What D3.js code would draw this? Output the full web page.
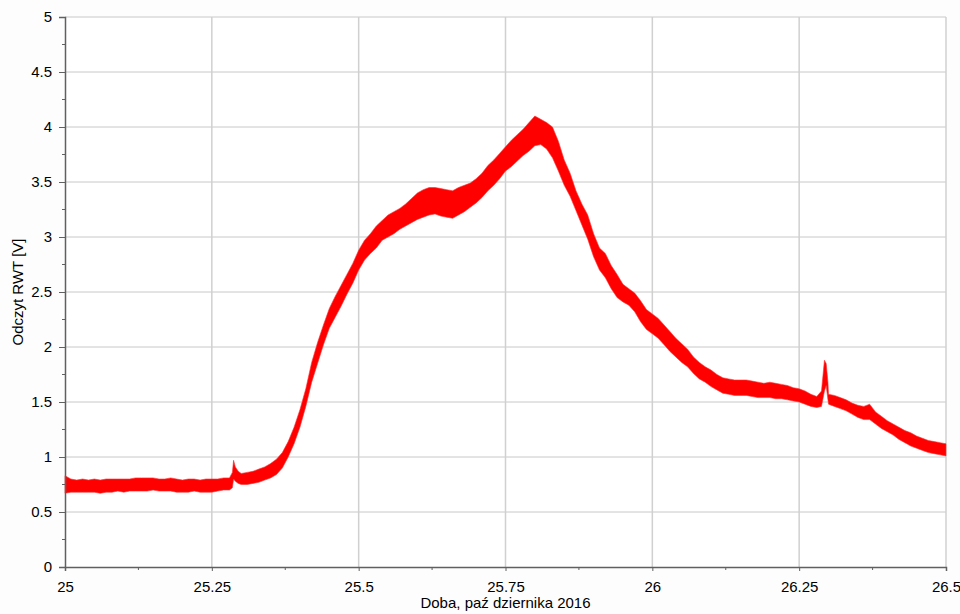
<!DOCTYPE html>
<html>
<head>
<meta charset="utf-8">
<script src="https://cdn.jsdelivr.net/npm/d3@7"></script>
<style>
  body { margin: 0; background: #fdfdfd; }
  svg { display: block; font-family: "Liberation Sans", Arial, sans-serif; }
  .tick-label { font-size: 15px; fill: #000; }
  .axis-title { font-size: 15px; fill: #000; }
</style>
</head>
<body>
<svg id="chart" width="960" height="614"></svg>
<script>
// time in days (Oct 2016) and the lower / upper edge of the noisy RWT trace [V]
let times = [
  25.00, 25.01, 25.02, 25.03, 25.04, 25.05, 25.06, 25.07, 25.08, 25.09,
  25.10, 25.11, 25.12, 25.13, 25.14, 25.15, 25.16, 25.17, 25.18, 25.19,
  25.20, 25.21, 25.22, 25.23, 25.24, 25.25, 25.26, 25.27, 25.28, 25.285,
  25.287, 25.29, 25.295, 25.30, 25.31, 25.32, 25.33, 25.34, 25.35, 25.36,
  25.37, 25.38, 25.39, 25.40, 25.41, 25.42, 25.43, 25.44, 25.45, 25.46,
  25.47, 25.48, 25.49, 25.50, 25.51, 25.52, 25.53, 25.54, 25.55, 25.56,
  25.57, 25.58, 25.59, 25.60, 25.61, 25.62, 25.63, 25.64, 25.65, 25.66,
  25.67, 25.68, 25.69, 25.70, 25.71, 25.72, 25.73, 25.74, 25.75, 25.76,
  25.77, 25.78, 25.79, 25.80, 25.81, 25.82, 25.83, 25.84, 25.85, 25.86,
  25.87, 25.88, 25.89, 25.90, 25.91, 25.92, 25.93, 25.94, 25.95, 25.96,
  25.97, 25.98, 25.99, 26.00, 26.01, 26.02, 26.03, 26.04, 26.05, 26.06,
  26.07, 26.08, 26.09, 26.10, 26.11, 26.12, 26.13, 26.14, 26.15, 26.16,
  26.17, 26.18, 26.19, 26.20, 26.21, 26.22, 26.23, 26.24, 26.25, 26.26,
  26.27, 26.28, 26.288, 26.293, 26.296, 26.299, 26.30, 26.31, 26.32, 26.33,
  26.34, 26.35, 26.36, 26.37, 26.38, 26.39, 26.40, 26.41, 26.42, 26.43,
  26.44, 26.45, 26.46, 26.47, 26.48, 26.49, 26.50
];

let lower = [
  0.67, 0.68, 0.68, 0.68, 0.68, 0.68, 0.67, 0.68, 0.68, 0.69,
  0.68, 0.69, 0.69, 0.69, 0.69, 0.70, 0.69, 0.69, 0.69, 0.68,
  0.68, 0.68, 0.69, 0.68, 0.68, 0.68, 0.69, 0.70, 0.70, 0.72,
  0.80, 0.78, 0.76, 0.75, 0.75, 0.76, 0.77, 0.79, 0.81, 0.84,
  0.90, 1.00, 1.12, 1.27, 1.46, 1.68, 1.85, 2.02, 2.17, 2.27,
  2.37, 2.48, 2.58, 2.70, 2.79, 2.85, 2.90, 2.97, 3.00, 3.03,
  3.07, 3.10, 3.13, 3.16, 3.18, 3.20, 3.21, 3.19, 3.18, 3.17,
  3.20, 3.23, 3.27, 3.31, 3.36, 3.42, 3.47, 3.53, 3.60, 3.64,
  3.69, 3.74, 3.78, 3.83, 3.84, 3.80, 3.72, 3.60, 3.47, 3.37,
  3.24, 3.11, 2.98, 2.82, 2.70, 2.63, 2.53, 2.45, 2.41, 2.38,
  2.32, 2.23, 2.16, 2.12, 2.08, 2.02, 1.96, 1.91, 1.86, 1.82,
  1.76, 1.71, 1.68, 1.64, 1.61, 1.58, 1.57, 1.56, 1.56, 1.56,
  1.55, 1.54, 1.54, 1.54, 1.53, 1.53, 1.52, 1.51, 1.50, 1.48,
  1.46, 1.45, 1.46, 1.60, 1.65, 1.52, 1.48, 1.46, 1.44, 1.42,
  1.39, 1.36, 1.34, 1.34, 1.30, 1.26, 1.23, 1.20, 1.16, 1.13,
  1.10, 1.08, 1.06, 1.04, 1.03, 1.02, 1.01
];

let upper = [
  0.83, 0.80, 0.79, 0.80, 0.79, 0.80, 0.79, 0.80, 0.80, 0.80,
  0.80, 0.80, 0.81, 0.81, 0.81, 0.81, 0.80, 0.80, 0.81, 0.80,
  0.79, 0.80, 0.80, 0.79, 0.80, 0.80, 0.80, 0.81, 0.81, 0.86,
  0.97, 0.91, 0.87, 0.85, 0.86, 0.87, 0.89, 0.91, 0.94, 0.98,
  1.04, 1.14, 1.27, 1.43, 1.62, 1.86, 2.04, 2.20, 2.35, 2.46,
  2.56, 2.66, 2.76, 2.88, 2.97, 3.03, 3.10, 3.15, 3.20, 3.23,
  3.26, 3.30, 3.35, 3.40, 3.43, 3.45, 3.45, 3.44, 3.43, 3.42,
  3.45, 3.47, 3.49, 3.53, 3.58, 3.65, 3.70, 3.76, 3.82, 3.88,
  3.93, 3.98, 4.04, 4.10, 4.07, 4.04, 4.00, 3.87, 3.70, 3.58,
  3.42, 3.30, 3.20, 3.03, 2.90, 2.85, 2.74, 2.66, 2.57, 2.53,
  2.49, 2.42, 2.34, 2.30, 2.26, 2.20, 2.14, 2.08, 2.03, 1.98,
  1.91, 1.86, 1.82, 1.79, 1.75, 1.72, 1.71, 1.70, 1.70, 1.70,
  1.69, 1.68, 1.67, 1.68, 1.67, 1.66, 1.65, 1.63, 1.62, 1.60,
  1.57, 1.55, 1.60, 1.88, 1.85, 1.68, 1.57, 1.56, 1.54, 1.52,
  1.49, 1.47, 1.46, 1.48, 1.41, 1.37, 1.33, 1.30, 1.27, 1.24,
  1.22, 1.19, 1.17, 1.15, 1.14, 1.13, 1.12
];

let xTickValues = [25, 25.25, 25.5, 25.75, 26, 26.25, 26.5];
let xMinorValues = [25.125, 25.375, 25.625, 25.875, 26.125, 26.375];
let yTickValues = [0, 0.5, 1, 1.5, 2, 2.5, 3, 3.5, 4, 4.5, 5];
let yMinorValues = [0.25, 0.75, 1.25, 1.75, 2.25, 2.75, 3.25, 3.75, 4.25, 4.75];

let xTitle = 'Doba, paź dziernika 2016';
let yTitle = 'Odczyt RWT [V]';

let plot = {left: 65, right: 946, top: 17, bottom: 567};

let svg = d3.select('#chart');

let x = d3.scaleLinear().domain([25, 26.5]).range([plot.left, plot.right]);
let y = d3.scaleLinear().domain([0, 5]).range([plot.bottom, plot.top]);

svg.append('rect')
  .attr('x', plot.left)
  .attr('y', plot.top)
  .attr('width', plot.right - plot.left)
  .attr('height', plot.bottom - plot.top)
  .attr('fill', '#fff');

// grid
svg.append('g')
  .selectAll('line')
  .data(yTickValues.slice(1))
  .join('line')
    .attr('x1', plot.left)
    .attr('x2', plot.right)
    .attr('y1', d => y(d))
    .attr('y2', d => y(d))
    .attr('stroke', '#c8c8c8')
    .attr('stroke-width', 1);

svg.append('g')
  .selectAll('line')
  .data(xTickValues.slice(1))
  .join('line')
    .attr('x1', d => x(d))
    .attr('x2', d => x(d))
    .attr('y1', plot.top)
    .attr('y2', plot.bottom)
    .attr('stroke', '#d0d0d0')
    .attr('stroke-width', 1.5);

// trace
let idx = d3.range(times.length);
let band = d3.area()
  .x(i => x(times[i]))
  .y0(i => y(lower[i]))
  .y1(i => y(upper[i]));

svg.append('path')
  .datum(idx)
  .attr('d', band)
  .attr('fill', '#ff0000')
  .attr('stroke', '#ff3030')
  .attr('stroke-width', 0.6)
  .attr('stroke-linejoin', 'round');

// axes
let xAxis = svg.append('g')
  .attr('transform', 'translate(0,' + plot.bottom + ')')
  .call(d3.axisBottom(x)
    .tickValues(xTickValues)
    .tickSize(4)
    .tickPadding(10)
    .tickFormat(d3.format('')));

xAxis.append('g')
  .selectAll('line')
  .data(xMinorValues)
  .join('line')
    .attr('x1', d => x(d))
    .attr('x2', d => x(d))
    .attr('y1', 0)
    .attr('y2', 3)
    .attr('stroke', '#606060');

let yAxis = svg.append('g')
  .attr('transform', 'translate(' + plot.left + ',0)')
  .call(d3.axisLeft(y)
    .tickValues(yTickValues)
    .tickSize(6)
    .tickPadding(7)
    .tickFormat(d3.format('')));

yAxis.append('g')
  .selectAll('line')
  .data(yMinorValues)
  .join('line')
    .attr('x1', -3)
    .attr('x2', 0)
    .attr('y1', d => y(d))
    .attr('y2', d => y(d))
    .attr('stroke', '#606060');

svg.selectAll('.domain').attr('stroke', '#606060').attr('stroke-width', 1.5);
svg.selectAll('.tick line').attr('stroke', '#606060');
svg.selectAll('.tick text')
  .attr('class', 'tick-label')
  .attr('font-size', null)
  .attr('font-family', null);

// titles
svg.append('text')
  .attr('class', 'axis-title')
  .attr('x', (plot.left + plot.right) / 2)
  .attr('y', 608)
  .attr('text-anchor', 'middle')
  .text(xTitle);

svg.append('text')
  .attr('class', 'axis-title')
  .attr('transform', 'translate(23,' + ((plot.top + plot.bottom) / 2) + ') rotate(-90)')
  .attr('text-anchor', 'middle')
  .text(yTitle);
</script>
</body>
</html>
